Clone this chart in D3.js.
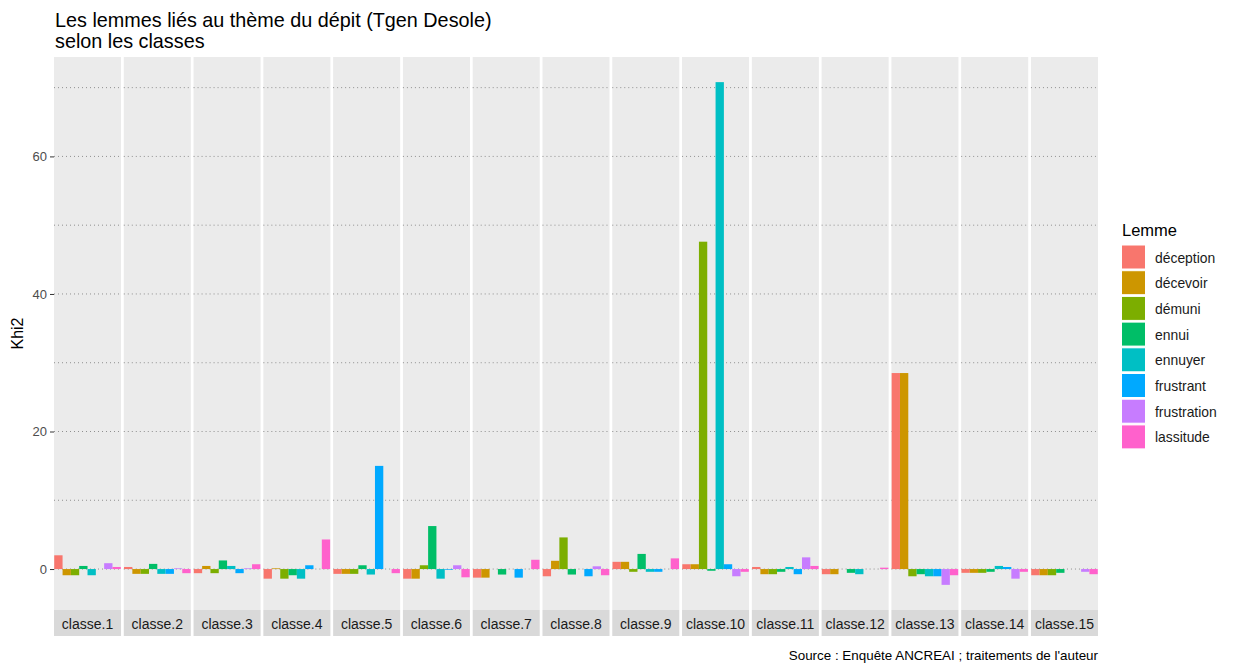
<!DOCTYPE html>
<html>
<head>
<meta charset="utf-8">
<script src="https://cdn.jsdelivr.net/npm/d3@7"></script>
<style>
  html, body { margin: 0; padding: 0; background: #fff; }
  svg { display: block; font-family: "Liberation Sans", Arial, sans-serif; }
</style>
</head>
<body>
<svg id="chart" width="1239" height="663"></svg>
<script>
const classes = ["classe.1","classe.2","classe.3","classe.4","classe.5","classe.6","classe.7","classe.8",
  "classe.9","classe.10","classe.11","classe.12","classe.13","classe.14","classe.15"];
const lemmes = ["déception","décevoir","démuni","ennui","ennuyer","frustrant","frustration","lassitude"];
const colors = ["#F8766D","#CD9600","#7CAE00","#00BE67","#00BFC4","#00A9FF","#C77CFF","#FF61CC"];
const yTicks = [0, 20, 40, 60];

const deception   = [2.0, 0.3, -0.6, -1.4, -0.7, -1.4, -1.25, -1.05, 1.05, 0.7, 0.3, -0.75, 28.5, -0.55, -0.9];
const decevoir    = [-0.9, -0.7, 0.45, 0.1, -0.7, -1.4, -1.25, 1.2, 1.05, 0.7, -0.75, -0.75, 28.5, -0.55, -0.9];
const demuni      = [-0.9, -0.7, -0.6, -1.4, -0.7, 0.55, 0, 4.6, -0.4, 47.6, -0.75, 0, -1.05, -0.55, -0.9];
const ennui       = [0.45, 0.75, 1.25, -0.9, 0.55, 6.25, -0.8, -0.8, 2.2, -0.25, -0.4, -0.55, -0.75, -0.4, -0.55];
const ennuyer     = [-0.9, -0.7, 0.45, -1.4, -0.8, -1.4, 0, 0, -0.4, 70.8, 0.3, -0.75, -1.05, 0.45, 0];
const frustrant   = [0, -0.7, -0.6, 0.55, 15.0, -0.1, -1.25, -1.05, -0.4, 0.7, -0.75, 0, -1.05, 0.3, 0];
const frustration = [0.85, 0.1, 0.1, 0, 0, 0.55, 0, 0.4, 0, -1.05, 1.7, 0, -2.3, -1.4, -0.4];
const lassitude   = [0.3, -0.6, 0.7, 4.3, -0.6, -1.2, 1.35, -0.9, 1.55, -0.4, 0.45, 0.2, -0.9, -0.4, -0.75];

const series = [deception, decevoir, demuni, ennui, ennuyer, frustrant, frustration, lassitude];

const data = [];
classes.forEach((c, ci) => {
  lemmes.forEach((l, li) => {
    data.push({classe: c, lemme: l, value: series[li][ci]});
  });
});

const svg = d3.select("#chart");
const plotLeft = 54, plotRight = 1098, plotTop = 57, plotBottom = 610;

const allVals = data.map(d => d.value);
const vmin = Math.min(0, d3.min(allVals)), vmax = d3.max(allVals);
const ex = (vmax - vmin) * 0.05;
const y = d3.scaleLinear().domain([vmin - ex, vmax + ex]).range([plotBottom, plotTop]);

const fx = d3.scaleBand().domain(classes).range([plotLeft, plotRight]).paddingInner(0.0394).paddingOuter(0);
const x = d3.scaleBand().domain(lemmes).range([0, fx.bandwidth()]).paddingInner(0).paddingOuter(0.03);
const color = d3.scaleOrdinal().domain(lemmes).range(colors);

// title
const title = svg.append("g").attr("fill", "#000").attr("font-size", 19.8);
title.append("text").attr("x", 55).attr("y", 27).text("Les lemmes liés au thème du dépit (Tgen Desole)");
title.append("text").attr("x", 55).attr("y", 48).text("selon les classes");

// panels
const gridVals = d3.range(0, Math.floor(vmax + ex) + 1, 10);
const panels = svg.selectAll("g.panel").data(classes).join("g")
  .attr("class", "panel")
  .attr("transform", d => `translate(${fx(d)},0)`);

panels.append("rect")
  .attr("x", 0).attr("y", plotTop)
  .attr("width", fx.bandwidth()).attr("height", plotBottom - plotTop)
  .attr("fill", "#EBEBEB");

panels.selectAll("line.grid").data(gridVals).join("line")
  .attr("class", "grid")
  .attr("x1", 0).attr("x2", fx.bandwidth())
  .attr("y1", d => y(d)).attr("y2", d => y(d))
  .attr("stroke", "#8f8f8f").attr("stroke-width", 1)
  .attr("stroke-dasharray", "1,3");

panels.selectAll("rect.bar").data(c => data.filter(d => d.classe === c)).join("rect")
  .attr("class", "bar")
  .attr("x", d => x(d.lemme))
  .attr("width", x.bandwidth())
  .attr("y", d => y(Math.max(0, d.value)))
  .attr("height", d => Math.abs(y(d.value) - y(0)))
  .attr("fill", d => color(d.lemme));

// strips
panels.append("rect")
  .attr("x", 0).attr("y", plotBottom)
  .attr("width", fx.bandwidth()).attr("height", 26)
  .attr("fill", "#D9D9D9");
panels.append("text")
  .attr("x", fx.bandwidth() / 2).attr("y", plotBottom + 19)
  .attr("text-anchor", "middle")
  .attr("font-size", 14).attr("fill", "#1A1A1A")
  .text(d => d);

// y axis
const yAxis = svg.append("g")
  .attr("transform", `translate(${plotLeft},0)`)
  .call(d3.axisLeft(y).tickValues(yTicks).tickSize(4).tickPadding(3).tickFormat(d3.format("d")));
yAxis.select(".domain").remove();
yAxis.selectAll(".tick line").attr("stroke", "#333333");
yAxis.selectAll(".tick text").attr("fill", "#4D4D4D").attr("font-size", 13)
  .attr("font-family", "'Liberation Sans', Arial, sans-serif");

svg.append("text")
  .attr("transform", `translate(23,${(plotTop + plotBottom) / 2}) rotate(-90)`)
  .attr("text-anchor", "middle")
  .attr("font-size", 16).attr("fill", "#000")
  .text("Khi2");

// legend
const legend = svg.append("g").attr("transform", "translate(1121,0)");
legend.append("text").attr("x", 1).attr("y", 236).attr("font-size", 16.5).attr("fill", "#000").text("Lemme");
const items = legend.selectAll("g.item").data(lemmes).join("g")
  .attr("class", "item")
  .attr("transform", (d, i) => `translate(0,${244.5 + i * 25.7})`);
items.append("rect")
  .attr("x", 0.5).attr("y", 0.5).attr("width", 24).attr("height", 24)
  .attr("fill", d => color(d)).attr("stroke", "#fff").attr("stroke-width", 1);
items.append("text")
  .attr("x", 34).attr("y", 18)
  .attr("font-size", 13.9).attr("fill", "#1A1A1A")
  .text(d => d);

// caption
svg.append("text")
  .attr("x", plotRight).attr("y", 660)
  .attr("text-anchor", "end")
  .attr("font-size", 13.4).attr("fill", "#000")
  .text("Source : Enquête ANCREAI ; traitements de l'auteur");
</script>
</body>
</html>
